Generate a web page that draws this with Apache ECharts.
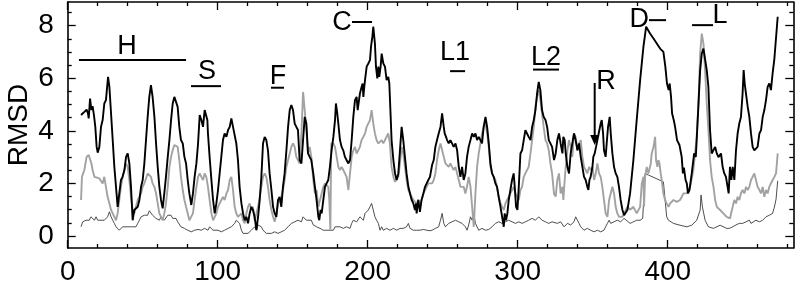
<!DOCTYPE html>
<html>
<head>
<meta charset="utf-8">
<script src="https://cdn.jsdelivr.net/npm/echarts@6/dist/echarts.min.js"></script>
<style>
  html, body { margin: 0; padding: 0; background: #fff; }
  #chart { width: 800px; height: 292px; }
</style>
</head>
<body>
<div id="chart"></div>
<script>
// RMSD traces, [residue, value]
const blackLine = [
  [8.9,4.6],[11.1,4.72],[12.6,4.81],[13.5,4.66],[14,4.47],[14.9,5.23],[15.8,4.79],[16.6,4.94],[17.5,4.6],[18.4,4.15],[19.3,3.39],[20,3.17],[21.1,3.39],[22.2,4.15],[23.3,4.41],[24.4,5.04],[25.5,5.17],[26.9,6.05],[27.8,5.67],[28.9,4.66],[30,3.65],[31.1,2.63],[32.2,1.87],[33.3,1.11],[34.4,1.62],[35.5,2.13],[36.6,2.25],[37.8,2.51],[38.9,3.01],[40,3.14],[41.1,2.76],[42.2,1.87],[43.3,0.6],[44.4,0.99],[45.5,0.99],[46.7,1.11],[47.8,1.37],[48.9,1.87],[50,2.13],[51.1,2.76],[52.2,3.65],[53.3,4.53],[54.4,5.29],[55.5,5.74],[56.6,5.29],[57.8,4.53],[58.9,3.52],[60,2.63],[61.1,1.87],[62.2,1.37],[63.3,1.05],[64.4,1.62],[65.5,2.25],[66.7,3.01],[67.8,3.65],[68.9,4.41],[70,5.04],[71.1,5.29],[72.2,5.36],[73.3,4.91],[74.4,4.15],[75.5,3.65],[76.7,3.52],[77.8,3.01],[78.9,2.76],[80,2.13],[81.1,1.62],
  [82.4,1.18],[83.5,1.62],[84.6,2.25],[85.8,2.76],[86.9,3.52],[88,4.6],[89.1,4.41],[90.2,4.15],[91.3,4.79],[92.4,4.79],[93.1,4.41],[93.5,3.9],[94.6,3.01],[95.8,2.13],[96.9,1.37],[98,0.86],[99.1,1.24],[100.2,1.75],[101.3,2.38],[102.4,3.01],[103.5,3.65],[104.6,3.9],[105.8,3.77],[106.9,4.03],[108,4.15],[109.1,4.47],[110.2,4.15],[111.3,4.15],[112.4,3.52],[113.5,2.89],[114.6,1.87],[115.8,1.24],[116.9,0.86],[118,0.6],[119.1,0.73],[120.2,0.48],[121.3,0.86],[122.4,1.11],[123.5,0.99],[124.6,0.73],[125.8,0.22],[126.9,0.73],[128,1.37],[129.1,2.25],[130.2,3.52],[131.3,3.77],[132.4,3.65],[133.5,3.26],[134.6,2.38],[135.8,1.75],[136.9,1.11],[138,0.86],[139.1,0.73],[140.2,1.37],[141.3,1.49],[142.4,1.11],[143.5,1.87],[144.6,2.38],[145.8,3.26],[146.9,4.15],[148,4.79],[149.1,4.98],[150.2,4.79],[151.3,4.28],[152.4,4.15],[153.5,4.03],[154.6,2.89],[155.8,2.76],[156.9,3.65],[158,4.53],[159.1,4.28],[160.2,3.14],[161.3,3.01],[162.4,2.89],
  [163.7,2.38],[164.8,1.87],[165.9,1.37],[167.1,0.73],[167.7,0.6],[168.6,0.99],[169.3,0.86],[170.4,1.37],[171.5,1.87],[172.6,2.0],[173.7,2.13],[174.8,2.63],[175.9,3.26],[177.1,3.77],[178.2,4.41],[178.8,5.04],[179.7,4.66],[180.4,4.28],[181.5,3.65],[182.6,3.39],[183.7,3.26],[184.8,3.01],[185.9,2.89],[187.1,2.76],[188.2,2.89],[189.3,3.65],[190.4,4.53],[191.5,5.17],[192.6,5.29],[193.3,4.79],[194.2,5.17],[194.8,5.42],[195.9,5.67],[196.6,5.8],[197.1,5.29],[197.7,5.67],[198.2,5.93],[199.3,6.44],[200.4,6.56],[201.5,6.69],[202.2,7.2],[203.1,7.58],[203.7,7.96],[204.8,7.32],[205.5,6.44],[206.4,5.99],[207.1,6.44],[207.7,6.05],[208.6,6.44],[209.3,6.94],[210.4,6.56],[211.5,6.44],[212.6,5.93],[213.7,6.05],[214.4,5.8],[215.3,4.53],[215.9,3.65],[217.1,2.89],[218.2,2.38],[219.3,2.13],[220.4,2.38],[221.5,3.26],[222.6,4.15],[223.7,3.65],[224.8,3.01],[225.9,2.38],[227.1,1.87],[228.2,1.62],[229.3,1.37],[230.4,1.24],[231.5,0.99],[232.2,1.24],[232.6,0.86],[233.7,1.37],[234.8,0.92],[235.9,1.37],[237.1,1.62],[238.2,1.87],[239.3,2.0],[240.4,2.13],[241.5,2.25],
  [242.9,2.7],[244,2.89],[245.1,3.39],[246.2,3.65],[247.3,3.9],[248.5,4.15],[249.6,4.66],[250.7,4.15],[251.3,3.9],[252.2,3.77],[252.9,3.65],[254,3.52],[255.1,3.65],[256.2,3.52],[257.3,3.39],[258.5,3.52],[259.6,3.26],[260.7,2.63],[261.8,2.25],[262.9,2.63],[264,2.13],[265.1,2.38],[266.2,3.01],[267.3,3.39],[268.5,3.65],[269.6,3.9],[270.7,3.77],[271.8,3.9],[272.9,3.65],[274,3.77],[275.1,3.65],[276.2,3.52],[277.3,4.15],[278.5,4.53],[279.6,4.15],[280.7,3.52],[281.8,2.76],[282.9,2.38],[284,2.25],[285.1,2.0],[286.2,1.87],[287.3,1.49],[288.5,1.11],[289.6,0.73],[290.7,0.35],[291.3,0.86],[292.2,0.6],[293.1,0.86],[294,1.37],[295.1,1.75],[296.2,2.13],[297.3,2.38],[298,1.87],[298.9,1.11],[299.8,0.99],[300.7,1.87],[301.8,3.14],[302.9,3.26],[304,3.65],[305.1,4.03],[306.2,3.9],[307.3,3.77],[308.5,3.65],[309.6,4.15],[310.7,4.41],[311.8,4.79],[312.9,5.42],[314,5.86],[315.1,5.55],[316.2,4.79],[317.3,4.53],[318.5,4.41],[319.6,4.15],[320.7,3.65],[321.8,3.52],[322.9,3.39],
  [324.2,2.89],[325.3,3.14],[326.4,3.65],[327.5,3.9],[328.6,3.52],[329.8,3.14],[330.4,3.77],[331.3,3.65],[332,3.14],[333.1,2.63],[334.2,2.38],[335.3,3.14],[336.4,3.52],[337.5,3.9],[338.6,3.65],[339.8,3.26],[340.9,3.52],[342,3.01],[343.1,2.63],[344.2,2.25],[345.3,2.13],[346.4,1.87],[347.1,1.75],[347.8,2.13],[348.6,2.25],[349.8,2.63],[350.4,3.01],[351.3,3.14],[352.2,3.39],[353.1,3.65],[354.2,3.65],[355.3,4.28],[356,4.41],[356.9,3.9],[357.5,3.26],[358.6,3.01],[359.3,3.52],[360.2,4.15],[361.3,4.53],[362,3.9],[363.1,3.14],[364.2,2.63],[365.3,2.38],[366.4,2.25],[367.5,1.87],[368.6,1.37],[369.8,0.99],[370.9,0.79],[372,0.86],[373.1,0.99],
  [374.9,1.62],[377.1,2.89],[379.3,4.41],[381.6,5.93],[383.8,7.2],[385.6,7.96],[388.2,7.7],[390.5,7.51],[392.7,7.32],[394.9,7.13],[397.1,7.0],[398.4,6.44],[399.5,5.8],[400.6,5.55],[401.3,5.8],[402.2,5.29],[402.9,4.66],[404,4.41],[404.9,4.15],[406.2,3.65],[407.8,3.46],[408.4,3.39],[409.3,3.01],[410.1,2.38],[410.8,2.6],[411.9,2.13],[412.7,2.0],[413.5,1.62],[414.5,1.75],[416,2.38],[417.6,3.14],[418.7,3.01],[419.3,3.65],[420.5,5.04],[421.6,6.31],[422.7,6.94],[423.8,7.13],[424.9,7.07],[426,6.31],[427.1,5.67],[428.2,4.03],[429.3,3.14],[430.5,3.08],[431.6,3.39],[432.7,3.14],[433.8,3.0],[435.5,3.14],[436.6,2.63],[437.7,2.38],[438.8,2.25],[439.9,1.87],[440.6,1.62],
  [441.5,2.63],[442.4,2.13],[443.3,2.63],[444.4,2.13],[445.5,3.26],[446.6,3.9],[447.7,4.28],[448.8,4.53],[449.9,5.42],[450.6,6.31],[451.3,5.8],[452.2,5.86],[453.3,4.91],[454.4,4.53],[455.5,3.9],[456.6,3.39],[457.7,3.26],[458.8,3.2],[459.9,3.39],[461.1,3.9],[462.2,4.03],[463.3,4.53],[464.4,4.79],[465.5,5.17],[466.6,5.67],[467.7,5.8],[468.8,5.55],[469.9,6.18],[471.1,6.75],[472.2,6.82],[473.3,8.34]
];

const grayLine = [
  [8.9,1.37],[9.5,2.25],[11.1,2.51],[12.6,3.01],[14,3.08],[14.9,3.01],[15.8,2.76],[16.6,2.51],[17.8,2.25],[18.9,2.19],[21.1,2.19],[22.2,2.13],[23.3,2.0],[24.4,2.25],[25.5,1.87],[26.6,1.49],[27.8,1.24],[28.9,0.99],[30,0.86],[31.1,0.73],[32.2,0.6],[33.3,0.86],[34.4,1.37],[35.5,1.87],[36.6,2.25],[37.8,2.51],[38.9,2.76],[40,2.63],[41.1,2.13],[42.2,1.49],[43.3,0.99],[44.4,0.86],[45.5,1.11],[46.7,1.37],[47.8,1.49],[48.9,1.62],[50,1.87],[51.1,2.0],[52.2,2.19],[53.3,2.38],[54.4,2.44],[55.5,2.25],[56.6,2.0],[57.8,1.87],[58.9,1.62],[60,1.24],[61.1,0.86],[62.2,0.73],[63.3,0.6],[64.4,0.86],[65.5,1.24],[66.7,1.87],[67.8,2.63],[68.9,3.01],[70,3.26],[71.1,3.46],[72.2,3.46],[73.3,3.39],[74.4,2.89],[75.5,2.25],[76.7,1.74],[77.8,1.37],[78.9,1.11],[80,0.86],[81.1,0.6],
  [82.4,0.6],[83.5,0.86],[84.6,1.37],[85.8,1.87],[86.9,2.25],[88,2.38],[89.1,2.25],[90.2,2.13],[91.3,2.38],[92.4,2.25],[93.5,1.87],[94.6,1.37],[95.8,0.86],[96.9,0.6],[98,0.73],[99.1,0.86],[100.2,1.11],[101.3,1.24],[102.4,1.37],[103.5,1.49],[104.6,1.37],[105.8,1.62],[106.9,1.75],[108,2.13],[109.1,2.25],[110.2,1.75],[111.3,1.11],[112.4,0.86],[113.5,0.73],[114.6,0.67],[115.8,0.86],[116.9,0.6],[118,0.48],[119.1,0.86],[120.2,1.11],[121.3,1.24],[122.4,0.99],[123.5,1.11],[124.6,0.6],[125.8,0.86],[126.9,1.11],[128,1.49],[129.1,1.87],[130.2,2.25],[131.3,2.38],[132.4,2.25],[133.5,1.87],[134.6,1.37],[135.8,0.99],[136.9,0.73],[138,0.54],[139.1,0.86],[140.2,1.24],[141.3,1.37],[142.4,1.49],[143.5,1.75],[144.6,2.13],[145.8,2.63],[146.9,2.89],[148,3.14],[149.1,3.39],[150.2,3.52],[151.3,3.39],[152.4,3.01],[153.5,2.89],[154.6,2.76],[155.8,3.9],[156.9,5.48],[158,4.79],[159.1,4.03],[160.2,3.14],[161.3,3.39],[162.4,3.01],
  [163.7,2.13],[164.8,1.62],[165.9,1.75],[167.1,1.11],[168.2,1.37],[169.3,1.62],[170.4,1.87],[171.5,2.0],[172.6,2.0],[173.7,1.87],[174.4,1.37],[175.1,0.22],[175.7,3.52],[177.1,3.52],[178.2,3.39],[179.3,3.01],[180.4,2.63],[181.5,2.51],[182.6,2.63],[183.7,2.51],[184.8,2.38],[185.9,2.25],[187.1,1.75],[188.2,2.38],[189.3,3.01],[190.4,3.26],[191.5,3.39],[192.6,3.14],[193.7,3.26],[194.8,3.39],[195.9,3.65],[197.1,3.77],[198.2,3.9],[199.3,4.15],[200.4,4.22],[201.5,4.41],[202.6,4.79],[203.7,4.28],[204.8,3.9],[205.9,3.65],[207.1,3.52],[208.2,3.52],[209.3,3.65],[210.4,3.52],[211.5,3.65],[212.6,3.65],[213.7,3.9],[214.8,3.52],[215.9,2.63],[217.1,2.25],[218.2,2.06],[219.3,2.13],[220.4,2.25],[221.5,2.76],[222.6,3.39],[223.7,3.14],[224.8,2.63],[225.9,2.13],[227.1,1.75],[228.2,1.62],[229.3,1.49],[230.4,1.37],[231.5,1.37],[232.6,1.24],[233.7,1.37],[234.8,1.24],[235.9,1.37],[237.1,1.62],[238.2,1.75],[239.3,1.87],[240.4,2.0],[241.5,2.06],
  [242.9,2.0],[244,2.13],[245.1,2.38],[246.2,2.89],[247.3,3.26],[248.5,3.52],[249.6,3.52],[250.7,3.01],[251.8,2.76],[252.9,2.76],[254,2.63],[255.1,2.76],[256.2,2.63],[257.3,2.51],[258.5,2.63],[259.6,2.38],[260.7,2.13],[261.8,1.87],[262.9,1.87],[264,1.87],[265.1,1.62],[266.2,1.87],[267.3,2.25],[268.5,1.87],[269.6,1.11],[270.7,0.35],[271.8,1.62],[272.9,2.63],[274,3.14],[275.1,3.52],[276.2,3.9],[277.3,4.15],[278.5,4.28],[279.6,3.9],[280.7,3.39],[281.8,2.63],[282.9,2.38],[284,2.25],[285.1,2.13],[286.2,1.87],[287.3,1.49],[288.5,1.24],[289.6,1.11],[290.7,0.99],[291.8,1.24],[292.9,1.37],[294,1.49],[295.1,1.62],[296.2,1.75],[297.3,1.87],[298.5,1.62],[299.6,1.49],[300.7,1.37],[301.8,1.75],[302.9,1.87],[304,2.25],[305.1,2.38],[306.2,2.38],[307.3,2.63],[308.5,3.14],[309.6,3.65],[310.7,4.15],[311.8,4.91],[312.9,5.29],[314,5.55],[315.1,5.17],[316.2,4.66],[317.3,4.15],[318.5,3.65],[319.6,3.52],[320.7,3.26],[321.8,2.76],[322.9,2.38],
  [324.2,1.6],[325.3,1.5],[326.4,2.13],[327.5,2.38],[328.6,1.62],[329.8,1.87],[330.4,1.37],[331.3,2.13],[332,2.63],[333.1,3.26],[334.2,3.65],[335.3,3.39],[336.4,3.01],[337.5,3.9],[338.6,3.77],[339.8,3.26],[340.9,3.52],[342,3.65],[343.1,3.01],[344.2,2.63],[345.3,2.51],[346.4,2.38],[347.6,2.63],[348.6,2.51],[349.8,2.63],[350.9,2.13],[352,2.38],[353.1,2.76],[354.2,2.38],[355.3,2.25],[356.4,1.87],[357.5,1.37],[358.6,0.86],[359.8,0.73],[360.9,1.37],[362,1.62],[363.1,1.87],[364.2,1.62],[365.3,1.11],[366.4,0.86],[367.5,0.73],[368.6,0.67],[369.8,0.73],[370.9,0.86],[372,0.99],[373.1,1.11],
  [374.9,1.0],[377.1,1.11],[379.3,0.86],[381.6,1.11],[382.7,2.0],[383.8,2.25],[384.2,1.11],[384.9,2.25],[386,2.63],[387.1,2.38],[388.7,2.76],[389.3,3.14],[390.5,3.39],[391.6,3.77],[392.2,2.89],[393.1,2.63],[393.8,2.89],[394.5,2.76],[395.3,2.38],[396,2.13],[397.1,1.62],[398.2,1.37],[399.3,1.24],[400.5,1.11],[401.6,1.24],[403.8,1.37],[406,1.3],[408.2,1.37],[410.5,1.62],[412.7,1.62],[414.9,1.87],[417.1,2.51],[419.3,3.77],[420.5,5.04],[421.6,6.94],[422.7,7.7],[423.8,7.32],[424.9,6.31],[426,5.04],[427.1,4.03],[428.2,2.89],[429.3,2.25],[430.5,1.87],[431.6,1.37],[432.7,1.11],[434.9,0.99],[437.1,0.86],[439.3,0.73],[441.6,0.67],
  [442.2,0.86],[443.3,1.11],[444.4,1.37],[445.5,1.24],[446.6,1.49],[447.7,1.37],[448.8,1.62],[449.9,1.75],[451.1,1.62],[452.2,1.87],[453.3,1.75],[454.4,1.87],[455.5,2.13],[456.6,2.25],[457.7,2.38],[458.8,2.13],[459.9,1.87],[461.1,1.75],[462.2,1.62],[463.3,1.87],[464.4,1.49],[465.5,1.75],[466.6,1.62],[467.7,1.87],[468.8,1.87],[469.9,2.13],[471.1,2.25],[472.2,2.38],[473.3,3.14]
];

const thinLine = [
  [8.9,0.35],[10,0.54],[11.1,0.48],[12.2,0.6],[13.3,0.67],[14.4,0.6],[15.5,0.73],[16.6,0.67],[17.8,0.6],[18.9,0.73],[20,0.6],[21.1,0.67],[22.2,0.6],[23.3,0.54],[24.4,0.6],[25.5,0.67],[26.6,0.73],[27.8,0.92],[28.9,0.73],[30,0.6],[31.1,0.48],[32.2,0.35],[33.3,0.29],[34.4,0.22],[35.5,0.29],[36.6,0.35],[37.8,0.29],[38.9,0.35],[40,0.42],[41.1,0.35],[42.2,0.29],[43.3,0.35],[44.4,0.29],[45.5,0.35],[46.7,0.48],[47.8,0.6],[48.9,0.73],[50,0.79],[51.1,0.79],[52.2,0.86],[53.3,0.79],[54.4,0.96],[55.5,0.92],[56.6,0.79],[57.8,0.73],[58.9,0.67],[60,0.6],[61.1,0.6],[62.2,0.73],[63.3,0.67],[64.4,0.6],[65.5,0.67],[66.7,0.79],[67.8,0.73],[68.9,0.79],[70,0.67],[71.1,0.6],[72.2,0.67],[73.3,0.54],[74.4,0.48],[75.5,0.35],[76.7,0.29],[77.8,0.29],[78.9,0.22],[80,0.22],[81.1,0.16],
  [82.4,0.16],[84.6,0.22],[86.9,0.25],[89.1,0.22],[91.3,0.29],[93.5,0.22],[94.6,0.35],[95.8,0.29],[96.9,0.22],[98,0.16],[100.2,0.22],[102.4,0.16],[104.6,0.22],[106.9,0.29],[109.1,0.35],[111.3,0.48],[112.4,0.6],[113.5,0.54],[114.6,0.48],[115.8,0.22],[116.9,0.1],[118,0.16],[120.2,0.1],[122.4,0.22],[124.6,0.35],[125.8,0.22],[126.9,0.42],[128,0.48],[129.1,0.35],[130.2,0.22],[131.3,0.16],[132.4,0.1],[133.5,0.03],[135.8,0.1],[138,0.16],[140.2,0.1],[142.4,0.16],[144.6,0.22],[146.9,0.35],[149.1,0.48],[151.3,0.54],[153.5,0.6],[155.8,0.54],[156.9,0.73],[158,0.79],[159.1,0.6],[160.2,0.54],[162.4,0.6],
  [163.7,0.42],[165.9,0.35],[168.2,0.29],[170.4,0.22],[172.6,0.22],[173.7,0.16],[174.8,0.22],[177.1,0.22],[178.2,0.35],[179.3,0.29],[181.5,0.35],[183.7,0.29],[185.9,0.35],[188.2,0.29],[189.3,0.48],[190.4,0.6],[191.5,0.67],[192.6,0.54],[193.7,0.6],[194.8,0.73],[197.1,0.6],[198.2,0.86],[199.3,0.86],[200.4,0.99],[201.5,1.11],[202.6,1.24],[203.7,0.99],[204.8,0.73],[205.9,0.6],[207.1,0.48],[208.2,0.22],[209.3,0.35],[210.4,0.22],[212.6,0.29],[214.8,0.22],[217.1,0.29],[219.3,0.22],[221.5,0.29],[223.7,0.29],[225.9,0.35],[227.1,0.48],[228.2,0.29],[230.4,0.22],[232.6,0.22],[234.8,0.22],[237.1,0.25],[239.3,0.22],[241.5,0.2],
  [242.9,0.22],[245.1,0.29],[247.3,0.35],[248.5,0.6],[249.6,0.86],[250.7,0.48],[251.8,0.35],[254,0.48],[256.2,0.54],[258.5,0.6],[259.6,0.67],[260.7,0.54],[262.9,0.48],[265.1,0.35],[266.2,0.22],[267.3,0.42],[268.5,0.73],[269.6,0.6],[270.7,0.86],[271.8,0.48],[274,0.22],[276.2,0.29],[278.5,0.22],[280.7,0.25],[282.9,0.35],[285.1,0.48],[287.3,0.54],[289.6,0.48],[291.8,0.54],[294,0.6],[296.2,0.54],[298.5,0.48],[300.7,0.54],[302.9,0.48],[305.1,0.54],[307.3,0.6],[309.6,0.67],[310.7,0.73],[311.8,0.6],[312.9,0.54],[314,0.73],[316.2,0.6],[318.5,0.54],[320.7,0.48],[322.9,0.54],
  [324.2,0.54],[326.4,0.48],[328.6,0.54],[330.9,0.35],[333.1,0.48],[335.3,0.42],[337.5,0.54],[338.6,0.73],[339.8,0.6],[340.9,0.48],[342,0.35],[344.2,0.22],[346.4,0.29],[348.6,0.22],[350.9,0.16],[352,0.1],[353.1,0.22],[355.3,0.16],[357.5,0.22],[358.6,0.35],[359.8,0.48],[360.9,0.6],[362,0.48],[364.2,0.54],[366.4,0.6],[368.6,0.54],[370.9,0.67],[372,0.6],
  [374.9,0.48],[377.1,0.54],[379.3,0.6],[381.6,0.6],[383.3,0.67],[384.2,0.6],[384.9,2.38],[387.1,2.32],[397.1,2.06],[399.3,0.73],[400.5,0.6],[403.8,0.48],[408.2,0.41],[412.7,0.35],[416,0.41],[419.3,0.6],[421.6,0.98],[422.2,1.56],[423.1,1.11],[424.9,0.6],[427.1,0.35],[430.5,0.29],[434.9,0.41],[439.3,0.29],
  [441.1,0.29],[443.3,0.35],[445.5,0.42],[447.7,0.48],[449.9,0.48],[452.2,0.54],[454.4,0.6],[455.5,0.48],[456.6,0.54],[458.8,0.6],[461.1,0.54],[463.3,0.6],[465.5,0.73],[467.7,0.79],[469.9,0.86],[471.1,1.1],[472.2,1.4],[473.3,2.1]
];

const xMajor = [0, 100, 200, 300, 400];
const xMinor = [20, 40, 60, 80, 120, 140, 160, 180, 220, 240, 260, 280, 320, 340, 360, 380, 420, 440, 460, 480];
const yMajor = [0, 2, 4, 6, 8];
const yMinor = [0.5, 1, 1.5, 2.5, 3, 3.5, 4.5, 5, 5.5, 6.5, 7, 7.5, 8.5];

// segment labels: text and its position, bar ends (data units)
const segLabels = [
  { text: 'H',  x: 39.5,  y: 7.19 },
  { text: 'S',  x: 92.9,  y: 6.24 },
  { text: 'F',  x: 140.2, y: 6.05 },
  { text: 'C',  x: 182.9, y: 8.1 },
  { text: 'L1', x: 258.2, y: 6.96 },
  { text: 'L2', x: 318.9, y: 6.77 },
  { text: 'R',  x: 358.9, y: 5.86 },
  { text: 'D',  x: 381.0, y: 8.25 },
  { text: 'L',  x: 434.9, y: 8.4 }
];
const segBars = [
  [7.5, 78.9, 6.69],
  [82.2, 102.2, 5.7],
  [135.5, 144.2, 5.64],
  [189.5, 202.9, 8.14],
  [254.9, 264.9, 6.27],
  [310.2, 327.5, 6.33],
  [387.5, 398.9, 8.21],
  [416.2, 430.2, 8.02]
];
const arrowR = { x: 351.3, from: 5.82, to: 3.46 };

const X_MIN = 0, X_MAX = 483.7, Y_MIN = -0.456, Y_MAX = 8.9;
const FONT = "'Liberation Sans', Arial, Helvetica, sans-serif";

function xAx(pos, ticks, len, showLine, showLabel) {
  return {
    type: 'value', position: pos, offset: 0, min: X_MIN, max: X_MAX,
    axisLine: { show: showLine, onZero: false, lineStyle: { color: '#000', width: 1.6 } },
    axisTick: { show: true, inside: true, length: len, customValues: ticks, lineStyle: { color: '#000', width: 1.3 } },
    axisLabel: { show: showLabel, customValues: ticks, color: '#000', fontSize: 28, fontFamily: FONT, margin: 10 },
    splitLine: { show: false }
  };
}
function yAx(pos, ticks, len, showLine, showLabel) {
  return {
    type: 'value', position: pos, offset: 0, min: Y_MIN, max: Y_MAX,
    axisLine: { show: showLine, onZero: false, lineStyle: { color: '#000', width: 1.6 } },
    axisTick: { show: true, inside: true, length: len, customValues: ticks, lineStyle: { color: '#000', width: 1.3 } },
    axisLabel: { show: showLabel, customValues: ticks, color: '#000', fontSize: 28, fontFamily: FONT, margin: 14 },
    splitLine: { show: false }
  };
}

const chart = echarts.init(document.getElementById('chart'));
chart.setOption({
  animation: false,
  backgroundColor: '#fff',
  grid: { left: 67.7, right: 6.7, top: 2, bottom: 44, containLabel: false },
  xAxis: [
    xAx('bottom', xMajor, 8, true, true),
    xAx('bottom', xMinor, 4, false, false),
    xAx('top', xMajor, 8, true, false),
    xAx('top', xMinor, 4, false, false)
  ],
  yAxis: [
    yAx('left', yMajor, 8, true, true),
    yAx('left', yMinor, 4, false, false),
    yAx('right', yMajor, 8, true, false),
    yAx('right', yMinor, 4, false, false)
  ],
  series: [
    { name: 'thin', type: 'line', data: thinLine, showSymbol: false, z: 1,
      lineStyle: { color: '#3a3a3a', width: 0.9 } },
    { name: 'gray', type: 'line', data: grayLine, showSymbol: false, z: 2,
      lineStyle: { color: '#a2a2a2', width: 1.9 } },
    { name: 'black', type: 'line', data: blackLine, showSymbol: false, z: 3,
      lineStyle: { color: '#000', width: 1.9 } }
  ]
});

// annotations placed through the axes' own scale
const px = (x, y) => chart.convertToPixel({ xAxisIndex: 0, yAxisIndex: 0 }, [x, y]);
const gfx = [];
const mid = px(0, (Y_MIN + Y_MAX) / 2);
gfx.push({ type: 'text', x: 19, y: mid[1], rotation: Math.PI / 2, silent: true,
  style: { text: 'RMSD', fill: '#000', fontSize: 28, fontFamily: FONT, align: 'center', verticalAlign: 'middle' } });
segLabels.forEach(l => {
  const p = px(l.x, l.y);
  gfx.push({ type: 'text', x: p[0], y: p[1], silent: true,
    style: { text: l.text, fill: '#000', fontSize: 27, fontFamily: FONT, align: 'center', verticalAlign: 'middle' } });
});
segBars.forEach(b => {
  const a = px(b[0], b[2]), c = px(b[1], b[2]);
  gfx.push({ type: 'line', silent: true, shape: { x1: a[0], y1: a[1], x2: c[0], y2: c[1] },
    style: { stroke: '#000', lineWidth: 2 } });
});
const t = px(arrowR.x, arrowR.from), h = px(arrowR.x, arrowR.to);
gfx.push({ type: 'line', silent: true, shape: { x1: t[0], y1: t[1], x2: h[0], y2: h[1] - 6 },
  style: { stroke: '#000', lineWidth: 2 } });
gfx.push({ type: 'polygon', silent: true,
  shape: { points: [[h[0] - 4.5, h[1] - 10], [h[0] + 4.5, h[1] - 10], [h[0], h[1]]] },
  style: { fill: '#000' } });
chart.setOption({ graphic: gfx });
</script>
</body>
</html>
